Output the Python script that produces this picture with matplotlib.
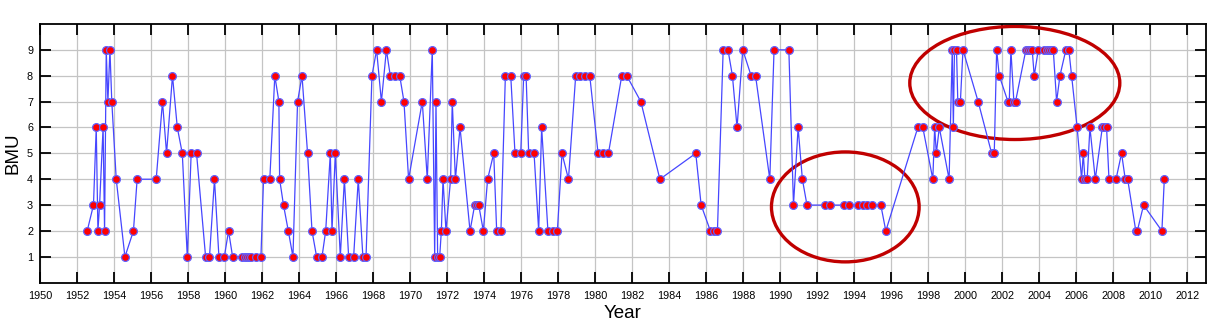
import numpy as np
import matplotlib
matplotlib.use("Agg")
import matplotlib.pyplot as plt
from matplotlib.patches import Ellipse

plt.rcParams['font.family'] = ['Liberation Sans', 'DejaVu Sans']

# BMU index of each record, by decimal year
years = [
    1952.55, 1952.89, 1953.04, 1953.13, 1953.22, 1953.41, 1953.49, 1953.58, 1953.67, 1953.78,
    1953.88, 1954.12, 1954.59, 1955.05, 1955.25, 1956.28, 1956.62, 1956.84, 1957.16, 1957.42,
    1957.69, 1957.96, 1958.17, 1958.46, 1958.95, 1959.16, 1959.43, 1959.67, 1959.96, 1960.19,
    1960.41, 1960.93, 1961.09, 1961.18, 1961.29, 1961.43, 1961.67, 1961.94, 1962.08, 1962.42,
    1962.69, 1962.91, 1962.95, 1963.16, 1963.42, 1963.67, 1963.92, 1964.16, 1964.46, 1964.70,
    1964.95, 1965.24, 1965.44, 1965.69, 1965.78, 1965.96, 1966.23, 1966.45, 1966.68, 1966.95,
    1967.20, 1967.45, 1967.62, 1967.94, 1968.19, 1968.45, 1968.72, 1968.93, 1969.20, 1969.44,
    1969.67, 1969.92, 1970.66, 1970.93, 1971.20, 1971.33, 1971.40, 1971.49, 1971.60, 1971.69,
    1971.78, 1971.94, 1972.19, 1972.28, 1972.45, 1972.70, 1973.24, 1973.49, 1973.60, 1973.71,
    1973.96, 1974.19, 1974.52, 1974.68, 1974.91, 1975.15, 1975.44, 1975.67, 1975.98, 1976.14,
    1976.27, 1976.41, 1976.70, 1976.95, 1977.11, 1977.45, 1977.71, 1977.96, 1978.21, 1978.56,
    1978.95, 1979.20, 1979.45, 1979.71, 1980.16, 1980.45, 1980.72, 1981.44, 1981.71, 1982.47,
    1983.50, 1985.44, 1985.73, 1986.23, 1986.43, 1986.61, 1986.92, 1987.18, 1987.42, 1987.67,
    1987.98, 1988.43, 1988.67, 1989.44, 1989.67, 1990.47, 1990.72, 1990.97, 1991.20, 1991.45,
    1992.45, 1992.70, 1993.44, 1993.71, 1994.20, 1994.45, 1994.72, 1994.95, 1995.44, 1995.71,
    1997.44, 1997.71, 1998.25, 1998.35, 1998.44, 1998.60, 1999.13, 1999.30, 1999.36, 1999.42,
    1999.53, 1999.60, 1999.74, 1999.88, 2000.70, 2001.43, 2001.57, 2001.70, 2001.84, 2002.31,
    2002.38, 2002.47, 2002.63, 2002.72, 2003.28, 2003.39, 2003.50, 2003.62, 2003.73, 2003.95,
    2004.27, 2004.40, 2004.52, 2004.63, 2004.76, 2004.94, 2005.12, 2005.44, 2005.60, 2005.75,
    2006.05, 2006.29, 2006.38, 2006.47, 2006.59, 2006.74, 2007.03, 2007.41, 2007.51, 2007.64,
    2007.77, 2008.15, 2008.45, 2008.65, 2008.78, 2009.22, 2009.30, 2009.64, 2010.63, 2010.76,
]
bmu = [
    2, 3, 6, 2, 3, 6, 2, 9, 7, 9,
    7, 4, 1, 2, 4, 4, 7, 5, 8, 6,
    5, 1, 5, 5, 1, 1, 4, 1, 1, 2,
    1, 1, 1, 1, 1, 1, 1, 1, 4, 4,
    8, 7, 4, 3, 2, 1, 7, 8, 5, 2,
    1, 1, 2, 5, 2, 5, 1, 4, 1, 1,
    4, 1, 1, 8, 9, 7, 9, 8, 8, 8,
    7, 4, 7, 4, 9, 1, 7, 1, 1, 2,
    4, 2, 4, 7, 4, 6, 2, 3, 3, 3,
    2, 4, 5, 2, 2, 8, 8, 5, 5, 8,
    8, 5, 5, 2, 6, 2, 2, 2, 5, 4,
    8, 8, 8, 8, 5, 5, 5, 8, 8, 7,
    4, 5, 3, 2, 2, 2, 9, 9, 8, 6,
    9, 8, 8, 4, 9, 9, 3, 6, 4, 3,
    3, 3, 3, 3, 3, 3, 3, 3, 3, 2,
    6, 6, 4, 6, 5, 6, 4, 9, 6, 9,
    9, 7, 7, 9, 7, 5, 5, 9, 8, 7,
    7, 9, 7, 7, 9, 9, 9, 9, 8, 9,
    9, 9, 9, 9, 9, 7, 8, 9, 9, 8,
    6, 4, 5, 4, 4, 6, 4, 6, 6, 6,
    4, 4, 5, 4, 4, 2, 2, 3, 2, 4,
]

# highlighted periods: (centre year, centre BMU, width in years, height in BMU)
highlights = [
    (1993.52, 2.93, 7.98, 4.25),
    (2002.68, 7.72, 11.35, 4.37),
]

fig = plt.figure(figsize=(12.23, 3.36), dpi=100)
ax = fig.add_axes([0.0327, 0.1586, 0.9532, 0.77])

ax.plot(years, bmu, '-', color='#4646ff', lw=0.9, zorder=3)
ax.plot(years, bmu, 'o', ls='none', ms=5.6, mfc='#ff0000', mec='#6060ff',
        mew=0.9, zorder=4)

for cx, cy, w, h in highlights:
    ax.add_patch(Ellipse((cx, cy), w, h, fill=False, edgecolor='#c00000',
                         lw=2.4, zorder=2.5))

ax.set_xlim(1950, 2013)
ax.set_ylim(0, 10)
ax.set_xticks(np.arange(1950, 2013, 2))
ax.set_yticks(np.arange(1, 10))
ax.grid(True, color='#c4c4c4', lw=0.9, zorder=0)
ax.set_axisbelow(True)

ax.tick_params(direction='in', length=8, width=1.3, top=True, right=True,
               labelsize=7.8, colors='black')
ax.tick_params(axis='x', pad=6)
ax.tick_params(axis='y', pad=5)
for sp in ax.spines.values():
    sp.set_linewidth(1.3)

ax.set_xlabel('Year', fontsize=13.5, labelpad=3)
ax.set_ylabel('BMU', fontsize=13.5, labelpad=4)

fig.savefig('out.png', dpi=100)
